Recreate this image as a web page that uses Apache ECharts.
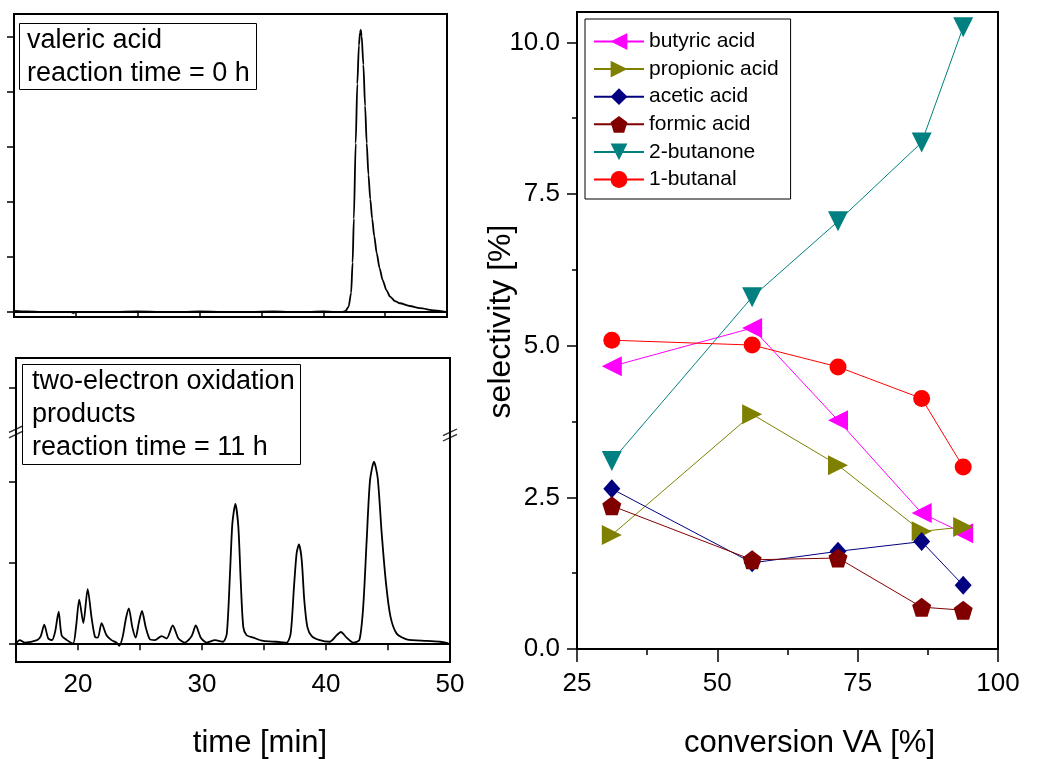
<!DOCTYPE html>
<html><head><meta charset="utf-8">
<script src="https://cdn.jsdelivr.net/npm/echarts@6/dist/echarts.min.js"></script>
<style>html,body{margin:0;padding:0;background:#fff}#c{width:1040px;height:759px}</style>
</head><body><div id="c"></div>
<script>
const FONT = '"Liberation Sans", Arial, Helvetica, sans-serif';

// ---- Chromatograms: [time (min), signal (a.u.)] ----
const trace0h = [[15,0.02],[16,0.01],[18,0.0],[19.6,0.0],[19.8,-0.02],[20.0,0.0],[22,0.0],[25,0.01],[28,0.0],[30,0.01],[33,0.0],[36,0.01],[38,0.0],[40,0.01],[41.5,0.0],[41.8,0.02],[42.05,0.1],[42.25,0.35],[42.37,0.9],[42.47,1.7],[42.62,3.07],[42.75,4.15],[42.88,4.85],[42.97,5.08],[43.03,5.13],[43.1,5.02],[43.24,4.5],[43.38,3.75],[43.51,3.07],[43.65,2.5],[43.8,2.05],[43.95,1.7],[44.12,1.38],[44.32,1.07],[44.55,0.8],[44.8,0.58],[45.1,0.4],[45.4,0.28],[45.8,0.2],[46.2,0.16],[47.0,0.11],[47.8,0.07],[49,0.03],[50,0.0]];
const trace11h = [[15.0,0.01],[15.3,0.05],[15.7,0.02],[16.7,0.05],[17.0,0.1],[17.28,0.24],[17.6,0.07],[17.9,0.05],[18.15,0.15],[18.44,0.40],[18.68,0.11],[19.1,0.05],[19.6,0.01],[19.84,0.21],[20.1,0.55],[20.43,0.26],[20.78,0.68],[21.1,0.32],[21.37,0.09],[21.6,0.08],[21.9,0.26],[22.3,0.11],[22.7,0.05],[23.1,0.02],[23.33,-0.02],[23.6,0.09],[23.87,0.32],[24.1,0.44],[24.38,0.21],[24.65,0.08],[24.9,0.26],[25.16,0.41],[25.46,0.21],[25.8,0.06],[26.2,0.05],[26.75,0.1],[27.15,0.07],[27.64,0.23],[28.1,0.07],[28.6,0.02],[29.17,0.1],[29.5,0.23],[29.9,0.08],[30.38,0.02],[31.05,0.05],[31.7,0.03],[32.0,0.13],[32.26,0.88],[32.45,1.49],[32.69,1.73],[32.93,1.45],[33.12,0.79],[33.33,0.21],[33.6,0.11],[34.14,0.08],[34.94,0.04],[36.0,0.03],[36.83,0.02],[37.15,0.13],[37.42,0.71],[37.63,1.12],[37.82,1.23],[38.04,1.04],[38.25,0.54],[38.5,0.21],[38.85,0.1],[39.5,0.05],[40.3,0.03],[40.86,0.11],[41.2,0.15],[41.67,0.08],[42.2,0.02],[42.69,0.05],[43.0,0.46],[43.28,1.28],[43.55,2.02],[43.87,2.25],[44.17,2.05],[44.49,1.37],[44.84,0.75],[45.2,0.34],[45.7,0.13],[46.5,0.06],[48.1,0.04],[49.2,0.03],[49.87,0.01]];
const axisBreakMarks = [[15, 2.62], [50, 2.58]];
const ticks0h = [0, 1, 2, 3, 4, 5];
const ticks11h = [0, 1, 2, 3.16];

// ---- Selectivity vs conversion ----
const conversion = [31.2, 56.2, 71.5, 86.4, 93.8];
const butyricAcid = [4.66, 5.29, 3.77, 2.24, 1.91];
const propionicAcid = [1.88, 3.87, 3.03, 1.94, 2.01];
const aceticAcid = [2.64, 1.42, 1.61, 1.77, 1.05];
const formicAcid = [2.36, 1.47, 1.50, 0.69, 0.64];
const butanone2 = [3.10, 5.80, 7.05, 8.35, 10.25];
const butanal1 = [5.09, 5.01, 4.65, 4.13, 3.00];
const selMajorTicks = [0, 2.5, 5, 7.5, 10];
const selMinorTicks = [1.25, 3.75, 6.25, 8.75];

const pair = ys => conversion.map((x, i) => [x, ys[i]]);
const PENTAGON = 'path://M0,-10 L9.51,-3.09 L5.88,8.09 L-5.88,8.09 L-9.51,-3.09 Z';

function selSeries(name, ys, color, symbol, rotate, size) {
  return {
    name, type: 'line', xAxisIndex: 2, yAxisIndex: 2, data: pair(ys),
    symbol, symbolRotate: rotate, symbolSize: size,
    lineStyle: { color, width: 1 }, itemStyle: { color },
    z: 5
  };
}

const chart = echarts.init(document.getElementById('c'), null, { renderer: 'canvas' });
const tickLbl = { fontFamily: FONT, fontSize: 26, color: '#000' };
const axLine = { show: true, lineStyle: { color: '#000', width: 2 } };
const gridBase = { show: true, borderColor: '#000', borderWidth: 2, containLabel: false, outerBoundsMode: 'none' };

chart.setOption({
  animation: false,
  textStyle: { fontFamily: FONT },
  title: [
    { text: 'valeric acid\nreaction time = 0 h', left: 19, top: 23,
      borderColor: '#000', borderWidth: 1, padding: [1, 7, 0, 8],
      textStyle: { fontFamily: FONT, fontSize: 27, fontWeight: 'normal', lineHeight: 33, color: '#000' } },
    { text: 'two-electron oxidation\nproducts\nreaction time = 11 h', left: 22, top: 364,
      borderColor: '#000', borderWidth: 1, padding: [1, 6, 1, 10],
      textStyle: { fontFamily: FONT, fontSize: 27, fontWeight: 'normal', lineHeight: 33, color: '#000' } }
  ],
  grid: [
    Object.assign({ left: 14, top: 14, width: 433, height: 303 }, gridBase),
    Object.assign({ left: 16, top: 358, width: 434, height: 304 }, gridBase),
    Object.assign({ left: 577, top: 12, width: 421, height: 637 }, gridBase)
  ],
  xAxis: [
    { gridIndex: 0, type: 'value', min: 15, max: 50, interval: 5,
      axisLine: axLine, axisTick: { length: 6, lineStyle: { width: 1.5, color: '#000' } },
      axisLabel: { show: false }, splitLine: { show: false } },
    { gridIndex: 1, type: 'value', min: 15, max: 50, interval: 5,
      axisLine: axLine, axisTick: { length: 6, lineStyle: { width: 1.5, color: '#000' } },
      axisLabel: Object.assign({ margin: 10, formatter: v => (v % 10 === 0 ? String(v) : '') }, tickLbl),
      splitLine: { show: false },
      name: 'time [min]', nameLocation: 'middle', nameGap: 66, nameMoveOverlap: false,
      nameTextStyle: { fontFamily: FONT, fontSize: 31, color: '#000', padding: [0, 0, 0, 54] } },
    { gridIndex: 2, type: 'value', min: 25, max: 100, interval: 25,
      axisLine: axLine, axisTick: { length: 13, lineStyle: { width: 1.5, color: '#000' } },
      minorTick: { show: true, splitNumber: 2, length: 6, lineStyle: { width: 1.5, color: '#000' } },
      axisLabel: Object.assign({ margin: 22 }, tickLbl),
      splitLine: { show: false },
      name: 'conversion VA [%]', nameLocation: 'middle', nameGap: 79, nameMoveOverlap: false,
      nameTextStyle: { fontFamily: FONT, fontSize: 31, color: '#000', padding: [0, 0, 0, 44] } }
  ],
  yAxis: [
    { gridIndex: 0, type: 'value', min: -0.09, max: 5.42,
      axisLine: axLine, axisTick: { length: 7, customValues: ticks0h, lineStyle: { width: 1.5, color: '#000' } },
      axisLabel: { show: false }, splitLine: { show: false } },
    { gridIndex: 1, type: 'value', min: -0.22, max: 3.53,
      axisLine: axLine, axisTick: { length: 7, customValues: ticks11h, lineStyle: { width: 1.5, color: '#000' } },
      axisLabel: { show: false }, splitLine: { show: false } },
    { gridIndex: 2, type: 'value', min: 0, max: 10.5, position: 'left',
      axisLine: axLine, axisTick: { length: 10, customValues: selMajorTicks, lineStyle: { width: 1.5, color: '#000' } },
      axisLabel: Object.assign({ margin: 17, customValues: selMajorTicks, formatter: v => v.toFixed(1) }, tickLbl),
      splitLine: { show: false },
      name: 'selectivity [%]', nameLocation: 'middle', nameGap: 60, nameMoveOverlap: false,
      nameTextStyle: { fontFamily: FONT, fontSize: 32, color: '#000', padding: [0, 0, 0, 18] } },
    { gridIndex: 2, type: 'value', min: 0, max: 10.5, position: 'left', offset: 0,
      axisLine: { show: false }, axisTick: { length: 5, customValues: selMinorTicks, lineStyle: { width: 1.5, color: '#000' } },
      axisLabel: { show: false }, splitLine: { show: false } }
  ],
  legend: {
    orient: 'vertical', left: 585, top: 19,
    padding: [12, 12, 9, 8],
    borderColor: '#000', borderWidth: 1,
    itemWidth: 50, itemHeight: 21, itemGap: 6.6,
    textStyle: { fontFamily: FONT, fontSize: 21, lineHeight: 21, color: '#000' },
    data: ['butyric acid', 'propionic acid', 'acetic acid', 'formic acid', '2-butanone', '1-butanal']
  },
  series: [
    { type: 'line', xAxisIndex: 0, yAxisIndex: 0, data: trace0h, showSymbol: false, symbol: 'none',
      smooth: 0.25, smoothMonotone: 'x', lineStyle: { color: '#000', width: 1.8 } },
    { type: 'line', xAxisIndex: 1, yAxisIndex: 1, data: trace11h, showSymbol: false, symbol: 'none',
      smooth: 0.25, lineStyle: { color: '#000', width: 1.8 } },
    { type: 'scatter', xAxisIndex: 1, yAxisIndex: 1, data: axisBreakMarks, clip: false, silent: true,
      symbol: 'path://M0,9 L14,3 M0,14 L14,8', symbolSize: [14, 12],
      itemStyle: { color: 'rgba(0,0,0,0)', borderColor: '#000', borderWidth: 1.5 }, z: 10 },
    selSeries('butyric acid', butyricAcid, '#FF00FF', 'triangle', 90, 20),
    selSeries('propionic acid', propionicAcid, '#808000', 'triangle', -90, 20),
    selSeries('acetic acid', aceticAcid, '#000080', 'diamond', 0, [17, 19]),
    selSeries('formic acid', formicAcid, '#800000', PENTAGON, 0, 19),
    selSeries('2-butanone', butanone2, '#008080', 'triangle', 180, 20),
    selSeries('1-butanal', butanal1, '#FF0000', 'circle', 0, 17)
  ]
});
</script></body></html>
